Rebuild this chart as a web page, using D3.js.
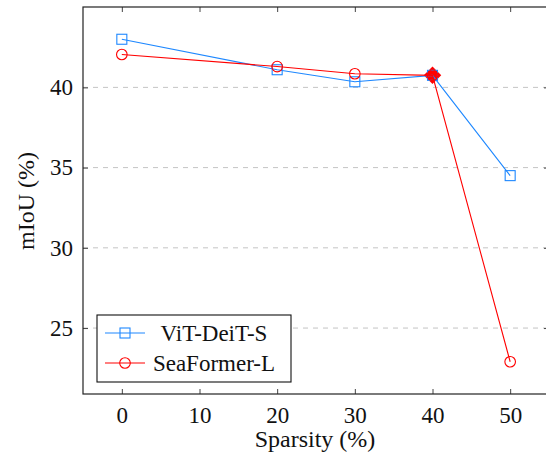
<!DOCTYPE html>
<html>
<head>
<meta charset="utf-8">
<script src="https://cdn.jsdelivr.net/npm/d3@7"></script>
<style>
  body { margin: 0; background: #fff; }
</style>
</head>
<body>
<svg id="chart" width="546" height="455"></svg>
<script>
// data
var sparsity = [0, 20, 30, 40, 50];
var vitDeit = [43.0, 41.1, 40.35, 40.75, 34.5];
var seaFormer = [42.05, 41.3, 40.85, 40.75, 22.9];
var xTicks = [0, 10, 20, 30, 40, 50];
var yTicks = [25, 30, 35, 40];
var highlight = { x: 40, y: 40.75 };

var FONT = "Liberation Serif, Times New Roman, Tinos, serif";

var margin = { top: 7, right: -3, bottom: 61, left: 83 },
    width = 546 - margin.left - margin.right,
    height = 455 - margin.top - margin.bottom;

var xScale = d3.scaleLinear().domain([-5, 55]).range([0, width]);
var yScale = d3.scaleLinear().domain([20.89, 45.01]).range([height, 0]);

var root = d3.select("#chart")
  .attr("font-family", FONT)
  .style("font-family", FONT);

var svg = root.append("g")
  .attr("transform", "translate(" + margin.left + "," + margin.top + ")");

// grid
svg.selectAll(".grid")
  .data(yTicks)
  .enter()
  .append("line")
  .attr("x1", 0).attr("x2", width)
  .attr("y1", d => yScale(d)).attr("y2", d => yScale(d))
  .attr("stroke", "#c4c4c4")
  .attr("stroke-width", 1)
  .attr("stroke-dasharray", "5,5");

// axes
var tickLen = 5;
var xAxis = d3.axisBottom(xScale).tickValues(xTicks).tickSize(-tickLen).tickPadding(13);
var yAxis = d3.axisLeft(yScale).tickValues(yTicks).tickSize(-tickLen).tickPadding(10);
var gx = svg.append("g").attr("transform", "translate(0," + height + ")").call(xAxis);
var gy = svg.append("g").call(yAxis);
svg.append("g").call(d3.axisTop(xScale).tickValues(xTicks).tickSize(-tickLen).tickFormat(""));
svg.append("g").attr("transform", "translate(" + width + ",0)")
  .call(d3.axisRight(yScale).tickValues(yTicks).tickSize(-tickLen).tickFormat(""));
svg.selectAll(".domain").remove();
svg.selectAll(".tick line").attr("stroke", "#444");
[gx, gy].forEach(function (g) {
  g.attr("font-family", FONT).attr("font-size", 23);
  g.selectAll("text").attr("fill", "#111")
    .attr("font-family", FONT)
    .style("font-family", FONT);
});

// frame
svg.append("rect")
  .attr("width", width).attr("height", height)
  .attr("fill", "none").attr("stroke", "#222").attr("stroke-width", 1.2);

// highlight diamond (under the series marks)
svg.append("path")
  .attr("d", d3.symbol().type(d3.symbolDiamond2).size(195)())
  .attr("transform", "translate(" + xScale(highlight.x) + "," + yScale(highlight.y) + ")")
  .attr("fill", "#ff0000");

// lines
var line = d3.line()
  .x(d => xScale(d[0]))
  .y(d => yScale(d[1]));

var series = [
  { name: "ViT-DeiT-S", values: vitDeit, color: "#1e88ff", marker: "square" },
  { name: "SeaFormer-L", values: seaFormer, color: "#ff0000", marker: "circle" }
];

function drawMarker(g, type, color) {
  if (type === "square") {
    g.append("rect").attr("x", -5).attr("y", -5).attr("width", 10).attr("height", 10)
      .attr("fill", "none").attr("stroke", color).attr("stroke-width", 1.1);
  } else {
    g.append("circle").attr("r", 5.3)
      .attr("fill", "none").attr("stroke", color).attr("stroke-width", 1.1);
  }
}

series.forEach(function (s) {
  var pts = sparsity.map((x, i) => [x, s.values[i]]);
  svg.append("path")
    .attr("d", line(pts))
    .attr("fill", "none")
    .attr("stroke", s.color)
    .attr("stroke-width", 1.1);
  pts.forEach(function (p) {
    var g = svg.append("g").attr("transform", "translate(" + xScale(p[0]) + "," + yScale(p[1]) + ")");
    drawMarker(g, s.marker, s.color);
  });
});

// legend
var legend = svg.append("g").attr("transform", "translate(" + (97 - margin.left) + "," + (315 - margin.top) + ")");
legend.append("rect")
  .attr("width", 194).attr("height", 67)
  .attr("fill", "#fff").attr("stroke", "#111").attr("stroke-width", 1.1);
series.forEach(function (s, i) {
  var row = legend.append("g").attr("transform", "translate(0," + (18 + i * 30) + ")");
  row.append("line").attr("x1", 8).attr("x2", 48).attr("stroke", s.color).attr("stroke-width", 1.1);
  var m = row.append("g").attr("transform", "translate(28,0)");
  drawMarker(m, s.marker, s.color);
  row.append("text")
    .attr("x", 117).attr("y", 7.5)
    .attr("text-anchor", "middle")
    .attr("font-family", FONT)
    .style("font-family", FONT)
    .attr("font-size", 23)
    .attr("fill", "#111")
    .text(s.name);
});

// axis labels
root.append("text")
  .attr("x", 315).attr("y", 447)
  .attr("text-anchor", "middle")
  .attr("font-family", FONT)
  .style("font-family", FONT)
  .attr("font-size", 24)
  .attr("fill", "#111")
  .text("Sparsity (%)");
root.append("text")
  .attr("transform", "translate(34,201) rotate(-90)")
  .attr("text-anchor", "middle")
  .attr("font-family", FONT)
  .style("font-family", FONT)
  .attr("font-size", 24)
  .attr("fill", "#111")
  .text("mIoU (%)");
</script>
</body>
</html>
